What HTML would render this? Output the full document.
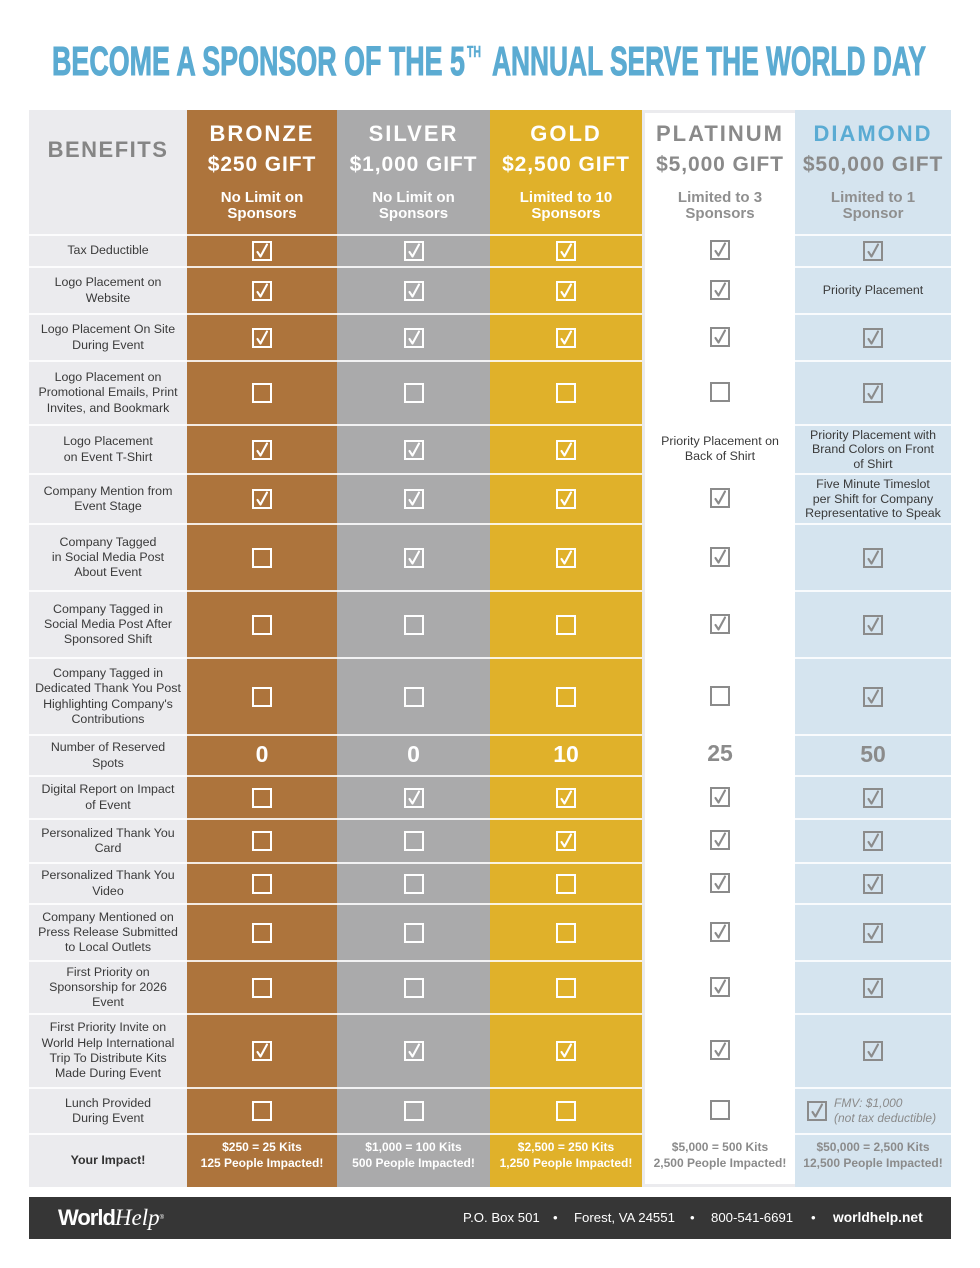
<!DOCTYPE html>
<html><head><meta charset="utf-8">
<style>
body{margin:0;width:980px;height:1268px;background:#fff;position:relative;overflow:hidden;font-family:"Liberation Sans",sans-serif}
.abs{position:absolute}
.row{position:absolute;left:29px;display:flex}
.row>div{display:flex;align-items:center;justify-content:center;text-align:center;box-sizing:border-box;border-top:2px solid rgba(255,255,255,.85);height:100%}
.row>.g,.row>.p{border-top:none}
.b{width:158px;font-size:12.4px;color:#3a3a3a;line-height:15.3px}
.br{width:150px;color:#fff}.si{width:153px;color:#fff}.go{width:152px;color:#fff}
.g{width:3px}.p{width:150px;color:#8b8b8b}.d{width:156px;color:#8b8b8b}
.cb{width:20px;height:20px;fill:none;stroke:currentColor;stroke-width:2;display:block}
.cb path{stroke-width:2.1;stroke-linejoin:round;stroke-linecap:round}
.t{font-size:12.4px;color:#3a3a3a;line-height:14.6px}
.num{font-size:23px;font-weight:bold;position:relative;top:-1px}
.imp{font-size:12px;font-weight:bold;line-height:16px;position:relative;top:-6px}
.hd{position:absolute;top:110px;height:124px;text-align:center}
.hd .n{position:absolute;left:0;right:0;top:12px;font-size:22px;font-weight:bold;letter-spacing:2px;line-height:24px}
.hd .m{position:absolute;left:0;right:0;top:43px;font-size:21px;font-weight:bold;letter-spacing:0.9px;line-height:24px}
.hd .s{position:absolute;left:0;right:0;top:80px;font-size:15px;font-weight:bold;line-height:16px}
</style></head><body>

<svg class="abs" style="left:0;top:0" width="980" height="100">
<g font-family="'Liberation Sans Narrow','Liberation Sans',sans-serif" font-weight="bold" fill="#5babd2" stroke="#5babd2" stroke-width="1">
<text x="52" y="75" font-size="41" textLength="413" lengthAdjust="spacingAndGlyphs">BECOME A SPONSOR OF THE 5</text>
<text x="467" y="57" font-size="16" stroke-width="0.5" textLength="14" lengthAdjust="spacingAndGlyphs">TH</text>
<text x="492" y="75" font-size="41" textLength="434" lengthAdjust="spacingAndGlyphs">ANNUAL SERVE THE WORLD DAY</text>
</g></svg>

<!-- column backgrounds -->
<div class="abs" style="left:29px;top:110px;width:922px;height:1077px;background:#ebebee"></div>
<div class="abs" style="left:187px;top:110px;width:150px;height:1077px;background:#ad743c"></div>
<div class="abs" style="left:337px;top:110px;width:153px;height:1077px;background:#aaaaab"></div>
<div class="abs" style="left:490px;top:110px;width:152px;height:1077px;background:#e0b12a"></div>
<div class="abs" style="left:645px;top:113px;width:150px;height:1071px;background:#fff"></div>
<div class="abs" style="left:795px;top:110px;width:156px;height:1077px;background:#d5e4ef"></div>

<!-- headers -->
<div class="hd" style="left:29px;width:158px"><div class="n" style="top:28px;color:#858585;letter-spacing:1.5px">BENEFITS</div></div>
<div class="hd" style="left:187px;width:150px;color:#fff"><div class="n">BRONZE</div><div class="m">$250 GIFT</div><div class="s">No Limit on<br>Sponsors</div></div>
<div class="hd" style="left:337px;width:153px;color:#fff"><div class="n">SILVER</div><div class="m">$1,000 GIFT</div><div class="s">No Limit on<br>Sponsors</div></div>
<div class="hd" style="left:490px;width:152px;color:#fff"><div class="n">GOLD</div><div class="m">$2,500 GIFT</div><div class="s">Limited to 10<br>Sponsors</div></div>
<div class="hd" style="left:645px;width:150px;color:#8a8a8a"><div class="n">PLATINUM</div><div class="m">$5,000 GIFT</div><div class="s" style="color:#8f8f8f">Limited to 3<br>Sponsors</div></div>
<div class="hd" style="left:795px;width:156px;color:#8a8a8a"><div class="n" style="color:#5aabd3">DIAMOND</div><div class="m">$50,000 GIFT</div><div class="s" style="color:#8f8f8f">Limited to 1<br>Sponsor</div></div>

<!-- rows -->
<div class="row" style="top:234px;height:32px"><div class="b">Tax Deductible</div>
<div class="br"><svg class="cb" viewBox="0 0 20 20"><rect x="1" y="1" width="18" height="18"/><path d="M5.5 11l3 4.5L15 3.5"/></svg></div>
<div class="si"><svg class="cb" viewBox="0 0 20 20"><rect x="1" y="1" width="18" height="18"/><path d="M5.5 11l3 4.5L15 3.5"/></svg></div>
<div class="go"><svg class="cb" viewBox="0 0 20 20"><rect x="1" y="1" width="18" height="18"/><path d="M5.5 11l3 4.5L15 3.5"/></svg></div>
<div class="g"></div>
<div class="p"><svg class="cb" viewBox="0 0 20 20"><rect x="1" y="1" width="18" height="18"/><path d="M5.5 11l3 4.5L15 3.5"/></svg></div>
<div class="d"><svg class="cb" viewBox="0 0 20 20"><rect x="1" y="1" width="18" height="18"/><path d="M5.5 11l3 4.5L15 3.5"/></svg></div></div>

<div class="row" style="top:266px;height:47px"><div class="b">Logo Placement on<br>Website</div>
<div class="br"><svg class="cb" viewBox="0 0 20 20"><rect x="1" y="1" width="18" height="18"/><path d="M5.5 11l3 4.5L15 3.5"/></svg></div>
<div class="si"><svg class="cb" viewBox="0 0 20 20"><rect x="1" y="1" width="18" height="18"/><path d="M5.5 11l3 4.5L15 3.5"/></svg></div>
<div class="go"><svg class="cb" viewBox="0 0 20 20"><rect x="1" y="1" width="18" height="18"/><path d="M5.5 11l3 4.5L15 3.5"/></svg></div>
<div class="g"></div>
<div class="p"><svg class="cb" viewBox="0 0 20 20"><rect x="1" y="1" width="18" height="18"/><path d="M5.5 11l3 4.5L15 3.5"/></svg></div>
<div class="d"><span class="t">Priority Placement</span></div></div>

<div class="row" style="top:313px;height:47px"><div class="b">Logo Placement On Site<br>During Event</div>
<div class="br"><svg class="cb" viewBox="0 0 20 20"><rect x="1" y="1" width="18" height="18"/><path d="M5.5 11l3 4.5L15 3.5"/></svg></div>
<div class="si"><svg class="cb" viewBox="0 0 20 20"><rect x="1" y="1" width="18" height="18"/><path d="M5.5 11l3 4.5L15 3.5"/></svg></div>
<div class="go"><svg class="cb" viewBox="0 0 20 20"><rect x="1" y="1" width="18" height="18"/><path d="M5.5 11l3 4.5L15 3.5"/></svg></div>
<div class="g"></div>
<div class="p"><svg class="cb" viewBox="0 0 20 20"><rect x="1" y="1" width="18" height="18"/><path d="M5.5 11l3 4.5L15 3.5"/></svg></div>
<div class="d"><svg class="cb" viewBox="0 0 20 20"><rect x="1" y="1" width="18" height="18"/><path d="M5.5 11l3 4.5L15 3.5"/></svg></div></div>

<div class="row" style="top:360px;height:64px"><div class="b">Logo Placement on<br>Promotional Emails, Print<br>Invites, and Bookmark</div>
<div class="br"><svg class="cb" viewBox="0 0 20 20"><rect x="1" y="1" width="18" height="18"/></svg></div>
<div class="si"><svg class="cb" viewBox="0 0 20 20"><rect x="1" y="1" width="18" height="18"/></svg></div>
<div class="go"><svg class="cb" viewBox="0 0 20 20"><rect x="1" y="1" width="18" height="18"/></svg></div>
<div class="g"></div>
<div class="p"><svg class="cb" viewBox="0 0 20 20"><rect x="1" y="1" width="18" height="18"/></svg></div>
<div class="d"><svg class="cb" viewBox="0 0 20 20"><rect x="1" y="1" width="18" height="18"/><path d="M5.5 11l3 4.5L15 3.5"/></svg></div></div>

<div class="row" style="top:424px;height:49px"><div class="b">Logo Placement<br>on Event T-Shirt</div>
<div class="br"><svg class="cb" viewBox="0 0 20 20"><rect x="1" y="1" width="18" height="18"/><path d="M5.5 11l3 4.5L15 3.5"/></svg></div>
<div class="si"><svg class="cb" viewBox="0 0 20 20"><rect x="1" y="1" width="18" height="18"/><path d="M5.5 11l3 4.5L15 3.5"/></svg></div>
<div class="go"><svg class="cb" viewBox="0 0 20 20"><rect x="1" y="1" width="18" height="18"/><path d="M5.5 11l3 4.5L15 3.5"/></svg></div>
<div class="g"></div>
<div class="p"><span class="t" style="line-height:15px">Priority Placement on<br>Back of Shirt</span></div>
<div class="d"><span class="t">Priority Placement with<br>Brand Colors on Front<br>of Shirt</span></div></div>

<div class="row" style="top:473px;height:50px"><div class="b">Company Mention from<br>Event Stage</div>
<div class="br"><svg class="cb" viewBox="0 0 20 20"><rect x="1" y="1" width="18" height="18"/><path d="M5.5 11l3 4.5L15 3.5"/></svg></div>
<div class="si"><svg class="cb" viewBox="0 0 20 20"><rect x="1" y="1" width="18" height="18"/><path d="M5.5 11l3 4.5L15 3.5"/></svg></div>
<div class="go"><svg class="cb" viewBox="0 0 20 20"><rect x="1" y="1" width="18" height="18"/><path d="M5.5 11l3 4.5L15 3.5"/></svg></div>
<div class="g"></div>
<div class="p"><svg class="cb" viewBox="0 0 20 20"><rect x="1" y="1" width="18" height="18"/><path d="M5.5 11l3 4.5L15 3.5"/></svg></div>
<div class="d"><span class="t">Five Minute Timeslot<br>per Shift for Company<br>Representative to Speak</span></div></div>

<div class="row" style="top:523px;height:67px"><div class="b">Company Tagged<br>in Social Media Post<br>About Event</div>
<div class="br"><svg class="cb" viewBox="0 0 20 20"><rect x="1" y="1" width="18" height="18"/></svg></div>
<div class="si"><svg class="cb" viewBox="0 0 20 20"><rect x="1" y="1" width="18" height="18"/><path d="M5.5 11l3 4.5L15 3.5"/></svg></div>
<div class="go"><svg class="cb" viewBox="0 0 20 20"><rect x="1" y="1" width="18" height="18"/><path d="M5.5 11l3 4.5L15 3.5"/></svg></div>
<div class="g"></div>
<div class="p"><svg class="cb" viewBox="0 0 20 20"><rect x="1" y="1" width="18" height="18"/><path d="M5.5 11l3 4.5L15 3.5"/></svg></div>
<div class="d"><svg class="cb" viewBox="0 0 20 20"><rect x="1" y="1" width="18" height="18"/><path d="M5.5 11l3 4.5L15 3.5"/></svg></div></div>

<div class="row" style="top:590px;height:67px"><div class="b">Company Tagged in<br>Social Media Post After<br>Sponsored Shift</div>
<div class="br"><svg class="cb" viewBox="0 0 20 20"><rect x="1" y="1" width="18" height="18"/></svg></div>
<div class="si"><svg class="cb" viewBox="0 0 20 20"><rect x="1" y="1" width="18" height="18"/></svg></div>
<div class="go"><svg class="cb" viewBox="0 0 20 20"><rect x="1" y="1" width="18" height="18"/></svg></div>
<div class="g"></div>
<div class="p"><svg class="cb" viewBox="0 0 20 20"><rect x="1" y="1" width="18" height="18"/><path d="M5.5 11l3 4.5L15 3.5"/></svg></div>
<div class="d"><svg class="cb" viewBox="0 0 20 20"><rect x="1" y="1" width="18" height="18"/><path d="M5.5 11l3 4.5L15 3.5"/></svg></div></div>

<div class="row" style="top:657px;height:77px"><div class="b">Company Tagged in<br>Dedicated Thank You Post<br>Highlighting Company's<br>Contributions</div>
<div class="br"><svg class="cb" viewBox="0 0 20 20"><rect x="1" y="1" width="18" height="18"/></svg></div>
<div class="si"><svg class="cb" viewBox="0 0 20 20"><rect x="1" y="1" width="18" height="18"/></svg></div>
<div class="go"><svg class="cb" viewBox="0 0 20 20"><rect x="1" y="1" width="18" height="18"/></svg></div>
<div class="g"></div>
<div class="p"><svg class="cb" viewBox="0 0 20 20"><rect x="1" y="1" width="18" height="18"/></svg></div>
<div class="d"><svg class="cb" viewBox="0 0 20 20"><rect x="1" y="1" width="18" height="18"/><path d="M5.5 11l3 4.5L15 3.5"/></svg></div></div>

<div class="row" style="top:734px;height:41px"><div class="b">Number of Reserved<br>Spots</div>
<div class="br"><span class="num">0</span></div>
<div class="si"><span class="num">0</span></div>
<div class="go"><span class="num">10</span></div>
<div class="g"></div>
<div class="p"><span class="num">25</span></div>
<div class="d"><span class="num">50</span></div></div>

<div class="row" style="top:775px;height:43px"><div class="b">Digital Report on Impact<br>of Event</div>
<div class="br"><svg class="cb" viewBox="0 0 20 20"><rect x="1" y="1" width="18" height="18"/></svg></div>
<div class="si"><svg class="cb" viewBox="0 0 20 20"><rect x="1" y="1" width="18" height="18"/><path d="M5.5 11l3 4.5L15 3.5"/></svg></div>
<div class="go"><svg class="cb" viewBox="0 0 20 20"><rect x="1" y="1" width="18" height="18"/><path d="M5.5 11l3 4.5L15 3.5"/></svg></div>
<div class="g"></div>
<div class="p"><svg class="cb" viewBox="0 0 20 20"><rect x="1" y="1" width="18" height="18"/><path d="M5.5 11l3 4.5L15 3.5"/></svg></div>
<div class="d"><svg class="cb" viewBox="0 0 20 20"><rect x="1" y="1" width="18" height="18"/><path d="M5.5 11l3 4.5L15 3.5"/></svg></div></div>

<div class="row" style="top:818px;height:44px"><div class="b">Personalized Thank You<br>Card</div>
<div class="br"><svg class="cb" viewBox="0 0 20 20"><rect x="1" y="1" width="18" height="18"/></svg></div>
<div class="si"><svg class="cb" viewBox="0 0 20 20"><rect x="1" y="1" width="18" height="18"/></svg></div>
<div class="go"><svg class="cb" viewBox="0 0 20 20"><rect x="1" y="1" width="18" height="18"/><path d="M5.5 11l3 4.5L15 3.5"/></svg></div>
<div class="g"></div>
<div class="p"><svg class="cb" viewBox="0 0 20 20"><rect x="1" y="1" width="18" height="18"/><path d="M5.5 11l3 4.5L15 3.5"/></svg></div>
<div class="d"><svg class="cb" viewBox="0 0 20 20"><rect x="1" y="1" width="18" height="18"/><path d="M5.5 11l3 4.5L15 3.5"/></svg></div></div>

<div class="row" style="top:862px;height:41px"><div class="b">Personalized Thank You<br>Video</div>
<div class="br"><svg class="cb" viewBox="0 0 20 20"><rect x="1" y="1" width="18" height="18"/></svg></div>
<div class="si"><svg class="cb" viewBox="0 0 20 20"><rect x="1" y="1" width="18" height="18"/></svg></div>
<div class="go"><svg class="cb" viewBox="0 0 20 20"><rect x="1" y="1" width="18" height="18"/></svg></div>
<div class="g"></div>
<div class="p"><svg class="cb" viewBox="0 0 20 20"><rect x="1" y="1" width="18" height="18"/><path d="M5.5 11l3 4.5L15 3.5"/></svg></div>
<div class="d"><svg class="cb" viewBox="0 0 20 20"><rect x="1" y="1" width="18" height="18"/><path d="M5.5 11l3 4.5L15 3.5"/></svg></div></div>

<div class="row" style="top:903px;height:57px"><div class="b">Company Mentioned on<br>Press Release Submitted<br>to Local Outlets</div>
<div class="br"><svg class="cb" viewBox="0 0 20 20"><rect x="1" y="1" width="18" height="18"/></svg></div>
<div class="si"><svg class="cb" viewBox="0 0 20 20"><rect x="1" y="1" width="18" height="18"/></svg></div>
<div class="go"><svg class="cb" viewBox="0 0 20 20"><rect x="1" y="1" width="18" height="18"/></svg></div>
<div class="g"></div>
<div class="p"><svg class="cb" viewBox="0 0 20 20"><rect x="1" y="1" width="18" height="18"/><path d="M5.5 11l3 4.5L15 3.5"/></svg></div>
<div class="d"><svg class="cb" viewBox="0 0 20 20"><rect x="1" y="1" width="18" height="18"/><path d="M5.5 11l3 4.5L15 3.5"/></svg></div></div>

<div class="row" style="top:960px;height:53px"><div class="b">First Priority on<br>Sponsorship for 2026<br>Event</div>
<div class="br"><svg class="cb" viewBox="0 0 20 20"><rect x="1" y="1" width="18" height="18"/></svg></div>
<div class="si"><svg class="cb" viewBox="0 0 20 20"><rect x="1" y="1" width="18" height="18"/></svg></div>
<div class="go"><svg class="cb" viewBox="0 0 20 20"><rect x="1" y="1" width="18" height="18"/></svg></div>
<div class="g"></div>
<div class="p"><svg class="cb" viewBox="0 0 20 20"><rect x="1" y="1" width="18" height="18"/><path d="M5.5 11l3 4.5L15 3.5"/></svg></div>
<div class="d"><svg class="cb" viewBox="0 0 20 20"><rect x="1" y="1" width="18" height="18"/><path d="M5.5 11l3 4.5L15 3.5"/></svg></div></div>

<div class="row" style="top:1013px;height:74px"><div class="b">First Priority Invite on<br>World Help International<br>Trip To Distribute Kits<br>Made During Event</div>
<div class="br"><svg class="cb" viewBox="0 0 20 20"><rect x="1" y="1" width="18" height="18"/><path d="M5.5 11l3 4.5L15 3.5"/></svg></div>
<div class="si"><svg class="cb" viewBox="0 0 20 20"><rect x="1" y="1" width="18" height="18"/><path d="M5.5 11l3 4.5L15 3.5"/></svg></div>
<div class="go"><svg class="cb" viewBox="0 0 20 20"><rect x="1" y="1" width="18" height="18"/><path d="M5.5 11l3 4.5L15 3.5"/></svg></div>
<div class="g"></div>
<div class="p"><svg class="cb" viewBox="0 0 20 20"><rect x="1" y="1" width="18" height="18"/><path d="M5.5 11l3 4.5L15 3.5"/></svg></div>
<div class="d"><svg class="cb" viewBox="0 0 20 20"><rect x="1" y="1" width="18" height="18"/><path d="M5.5 11l3 4.5L15 3.5"/></svg></div></div>

<div class="row" style="top:1087px;height:46px"><div class="b">Lunch Provided<br>During Event</div>
<div class="br"><svg class="cb" viewBox="0 0 20 20"><rect x="1" y="1" width="18" height="18"/></svg></div>
<div class="si"><svg class="cb" viewBox="0 0 20 20"><rect x="1" y="1" width="18" height="18"/></svg></div>
<div class="go"><svg class="cb" viewBox="0 0 20 20"><rect x="1" y="1" width="18" height="18"/></svg></div>
<div class="g"></div>
<div class="p"><svg class="cb" viewBox="0 0 20 20"><rect x="1" y="1" width="18" height="18"/></svg></div>
<div class="d" style="justify-content:flex-start;padding-left:12px"><svg class="cb" viewBox="0 0 20 20"><rect x="1" y="1" width="18" height="18"/><path d="M5.5 11l3 4.5L15 3.5"/></svg><span style="font-size:12px;font-style:italic;line-height:15px;text-align:left;margin-left:7px;color:#8b8b8b">FMV: $1,000<br>(not tax deductible)</span></div></div>

<div class="row" style="top:1133px;height:54px"><div class="b" style="font-weight:bold;color:#333">Your Impact!</div>
<div class="br"><span class="imp">$250 = 25 Kits<br>125 People Impacted!</span></div>
<div class="si"><span class="imp">$1,000 = 100 Kits<br>500 People Impacted!</span></div>
<div class="go"><span class="imp">$2,500 = 250 Kits<br>1,250 People Impacted!</span></div>
<div class="g"></div>
<div class="p"><span class="imp" style="top:-5px">$5,000 = 500 Kits<br>2,500 People Impacted!</span></div>
<div class="d"><span class="imp">$50,000 = 2,500 Kits<br>12,500 People Impacted!</span></div></div>

<!-- footer -->
<div class="abs" style="left:29px;top:1197px;width:922px;height:42px;background:#363636"></div>
<div class="abs" style="left:58px;top:1205px;color:#fff;white-space:nowrap;line-height:26px"><span style="font-size:22px;font-weight:bold;letter-spacing:-1px">World</span><span style="font-family:'Liberation Serif',serif;font-style:italic;font-size:23px">Help</span><span style="font-size:6px;vertical-align:top">®</span></div>
<div class="abs" style="top:1209px;left:0;width:980px;height:18px;color:#fff;font-size:13.2px;line-height:18px;white-space:nowrap">
<span class="abs" style="left:463px">P.O. Box 501</span>
<span class="abs" style="left:553px">•</span>
<span class="abs" style="left:574px">Forest, VA 24551</span>
<span class="abs" style="left:690px">•</span>
<span class="abs" style="left:711px">800-541-6691</span>
<span class="abs" style="left:811px">•</span>
<span class="abs" style="left:833px;font-weight:bold;font-size:13.8px">worldhelp.net</span>
</div>
</body></html>
